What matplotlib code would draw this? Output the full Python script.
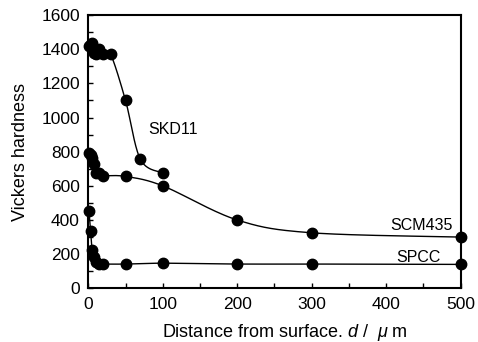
import numpy as np
import matplotlib
matplotlib.use("Agg")
import matplotlib.pyplot as plt
import matplotlib.ticker as plticker

plt.rcParams['font.family'] = ['Liberation Sans', 'DejaVu Sans']
plt.rcParams['mathtext.fontset'] = 'custom'
plt.rcParams['mathtext.rm'] = 'Liberation Sans'
plt.rcParams['mathtext.it'] = 'Liberation Sans:italic'

# data
skd_x = [1, 3, 5, 7, 10, 15, 20, 30, 50, 70, 100]
skd_y = [1420, 1430, 1435, 1380, 1370, 1400, 1370, 1370, 1100, 755, 675]

scm_x = [1, 3, 5, 7, 10, 15, 20, 50, 100, 200, 300, 500]
scm_y = [790, 780, 765, 730, 675, 675, 660, 655, 600, 400, 325, 300]

spcc_x = [1, 3, 5, 7, 10, 15, 20, 50, 100, 200, 300, 500]
spcc_y = [450, 335, 225, 185, 155, 145, 142, 142, 147, 142, 142, 140]

labels = ["SKD11", "SCM435", "SPCC"]


def smooth(x, y, n=30):
    # excel-like smoothed line (catmull-rom bezier)
    p = np.column_stack([x, y]).astype(float)
    p = np.vstack([p[0], p, p[-1]])
    out = []
    t = np.linspace(0, 1, n)[:, None]
    for i in range(1, len(p) - 2):
        p0, p1, p2, p3 = p[i - 1], p[i], p[i + 1], p[i + 2]
        c1 = p1 + (p2 - p0) / 6
        c2 = p2 - (p3 - p1) / 6
        seg = ((1 - t) ** 3) * p1 + 3 * ((1 - t) ** 2) * t * c1 \
            + 3 * (1 - t) * t ** 2 * c2 + t ** 3 * p2
        out.append(seg)
    out = np.vstack(out)
    return out[:, 0], out[:, 1]


fig = plt.figure(figsize=(4.78, 3.42), dpi=100)
ax = fig.add_axes([0.1847, 0.157, 0.7791, 0.799])

for xs, ys in [(skd_x, skd_y), (scm_x, scm_y), (spcc_x, spcc_y)]:
    sx, sy = smooth(xs, ys)
    ax.plot(sx, sy, '-', color='black', linewidth=1.0)
    ax.plot(xs, ys, 'o', color='black', markersize=7.5, clip_on=False)

ax.text(80, 930, labels[0], fontsize=11.5, va='center', ha='left')
ax.text(489, 365, labels[1], fontsize=11.5, va='center', ha='right')
ax.text(473, 181, labels[2], fontsize=11.5, va='center', ha='right')

ax.set_xlim(0, 500)
ax.set_ylim(0, 1600)
ax.xaxis.set_major_locator(plticker.MultipleLocator(100))
ax.xaxis.set_minor_locator(plticker.MultipleLocator(50))
ax.yaxis.set_major_locator(plticker.MultipleLocator(200))
ax.yaxis.set_minor_locator(plticker.MultipleLocator(100))
ax.tick_params(which='both', direction='in', length=3.5, width=1.0,
               top=False, right=False)
ax.tick_params(which='major', labelsize=12.5, pad=6)
for s in ax.spines.values():
    s.set_linewidth(1.5)

ax.set_ylabel("Vickers hardness", fontsize=13)
ax.set_xlabel(r"Distance from surface. $d$ /  $\mu$ m", fontsize=13)
ax.yaxis.set_label_coords(-0.16, 0.5)
ax.xaxis.set_label_coords(0.528, -0.122)

fig.savefig("out.png", dpi=100)
